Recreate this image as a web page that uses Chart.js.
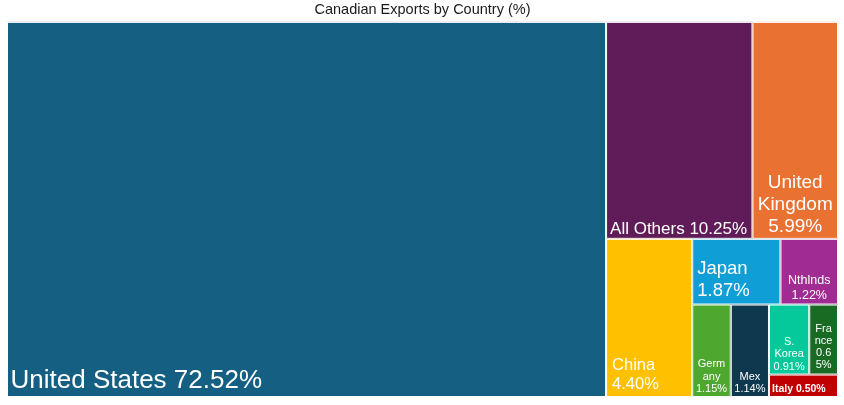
<!DOCTYPE html>
<html>
<head>
<meta charset="utf-8">
<style>
  html, body { margin: 0; padding: 0; background: #ffffff; }
  #wrap { width: 844px; height: 405px; }
</style>
<script src="https://cdn.jsdelivr.net/npm/chart.js@4.4.1/dist/chart.umd.min.js"></script>
</head>
<body>
<div id="wrap"><canvas id="c" width="844" height="405"></canvas></div>
<script>
// ---- data ----
const categories = ["United States", "All Others", "United Kingdom", "China", "Japan", "Nthlnds", "Germany", "Mex", "S. Korea", "France", "Italy"];
const exportShare = [72.52, 10.25, 5.99, 4.40, 1.87, 1.22, 1.15, 1.14, 0.91, 0.65, 0.50];
const chartTitle = "Canadian Exports by Country (%)";

// ---- styles ----
const cellColors = ["#156082", "#601C58", "#E97132", "#FFC000", "#0F9ED5", "#A02B93", "#4EA72E", "#0E384E", "#05C99A", "#196B24", "#C00000"];
const labelStyle = [
  { size: 26,   align: "left",   padX: 3.5, padB: 9,   lh: 30,   maxW: 520 },
  { size: 17,   align: "left",   padX: 4,   padB: 5,   lh: 20,   maxW: 142 },
  { size: 19,   align: "center",            padB: 7,   lh: 21.7, maxW: 80 },
  { size: 16.5, align: "left",   padX: 6,   padB: 8,   lh: 18.6, maxW: 75 },
  { size: 18.5, align: "left",   padX: 5,   padB: 9,   lh: 22,   maxW: 80 },
  { size: 12.5, align: "center",            padB: 6,   lh: 15,   maxW: 50 },
  { size: 11,   align: "center",            padB: 5.3, lh: 12.2, maxW: 32 },
  { size: 11,   align: "center",            padB: 5.3, lh: 12,   maxW: 32 },
  { size: 11,   align: "center",            padB: 5,   lh: 12.2, maxW: 32 },
  { size: 11,   align: "center",            padB: 6.3, lh: 12,   maxW: 19 },
  { size: 10.5, align: "left",   padX: 3,   padB: 5.3, lh: 12,   maxW: 62, weight: "bold" }
];
const FONT = "'Liberation Sans', Arial, Helvetica, sans-serif";
const SHAPE_BIAS = 1.27; // preferred width/height of a tile ~ 1/1.27

// ---- squarified layout (in chart-area units) ----
function tileScore(w, h) { const q = (w / h) * SHAPE_BIAS; return Math.max(q, 1 / q); }
function rowWorst(areas, rect) {
  const s = areas.reduce((a, b) => a + b, 0);
  let worst = 0;
  if (rect.w >= rect.h) {
    const cw = s / rect.h;
    areas.forEach(a => { worst = Math.max(worst, tileScore(cw, a / cw)); });
  } else {
    const rh = s / rect.w;
    areas.forEach(a => { worst = Math.max(worst, tileScore(a / rh, rh)); });
  }
  return worst;
}
function squarify(values, W, H) {
  const total = values.reduce((a, b) => a + b, 0);
  const areas = values.map(v => v / total * W * H);
  const out = [];
  let rect = { x: 0, y: 0, w: W, h: H };
  let i = 0;
  while (i < areas.length) {
    let row = [i];
    let best = rowWorst([areas[i]], rect);
    let j = i + 1;
    while (j < areas.length) {
      const cand = row.concat(j);
      const sc = rowWorst(cand.map(k => areas[k]), rect);
      if (sc <= best) { row = cand; best = sc; j++; } else break;
    }
    const s = row.reduce((a, k) => a + areas[k], 0);
    if (rect.w >= rect.h) {
      const cw = s / rect.h;
      let y = rect.y;
      row.forEach(k => { const h = areas[k] / cw; out[k] = { x: rect.x, y: y, w: cw, h: h }; y += h; });
      rect = { x: rect.x + cw, y: rect.y, w: rect.w - cw, h: rect.h };
    } else {
      const rh = s / rect.w;
      let x = rect.x;
      row.forEach(k => { const w = areas[k] / rh; out[k] = { x: x, y: rect.y, w: w, h: rh }; x += w; });
      rect = { x: rect.x, y: rect.y + rh, w: rect.w, h: rect.h - rh };
    }
    i = j;
  }
  return out;
}

function wrapText(ctx, text, maxW) {
  const words = text.split(" ");
  const lines = [];
  let cur = "";
  for (const w of words) {
    const test = cur ? cur + " " + w : w;
    if (ctx.measureText(test).width <= maxW) { cur = test; continue; }
    if (cur) { lines.push(cur); cur = ""; }
    if (ctx.measureText(w).width <= maxW) { cur = w; continue; }
    let piece = "";
    for (const ch of w) {
      if (!piece || ctx.measureText(piece + ch).width <= maxW) piece += ch;
      else { lines.push(piece); piece = ch; }
    }
    cur = piece;
  }
  if (cur) lines.push(cur);
  return lines;
}

const treemapPlugin = {
  id: "treemapTiles",
  afterDatasetsDraw(chart) {
    const ctx = chart.ctx;
    const xs = chart.scales.x, ys = chart.scales.y;
    const W = xs.right - xs.left, H = ys.bottom - ys.top;
    const tiles = squarify(exportShare, W, H);
    ctx.save();
    tiles.forEach((t, k) => {
      const x0 = xs.getPixelForValue(t.x / W), x1 = xs.getPixelForValue((t.x + t.w) / W);
      const y0 = ys.getPixelForValue(t.y / H), y1 = ys.getPixelForValue((t.y + t.h) / H);
      ctx.fillStyle = cellColors[k];
      ctx.fillRect(x0, y0, x1 - x0, y1 - y0);
      ctx.strokeStyle = "#ffffff";
      ctx.lineWidth = 1;
      ctx.strokeRect(x0 + 0.5, y0 + 0.5, x1 - x0 - 1, y1 - y0 - 1);
      t.px = { x0, x1, y0, y1 };
    });
    tiles.forEach((t, k) => {
      const st = labelStyle[k];
      const { x0, x1, y1 } = t.px;
      ctx.font = (st.weight || "normal") + " " + st.size + "px " + FONT;
      ctx.fillStyle = "#ffffff";
      ctx.textBaseline = "alphabetic";
      const text = categories[k] + " " + exportShare[k].toFixed(2) + "%";
      const lines = wrapText(ctx, text, st.maxW);
      let tx;
      if (st.align === "center") { ctx.textAlign = "center"; tx = (x0 + x1) / 2; }
      else { ctx.textAlign = "left"; tx = x0 + st.padX; }
      const lastY = y1 - st.padB;
      lines.forEach((ln, li) => {
        ctx.fillText(ln, tx, lastY - (lines.length - 1 - li) * st.lh);
      });
    });
    ctx.restore();
  }
};

new Chart(document.getElementById("c").getContext("2d"), {
  type: "scatter",
  data: { datasets: [{ label: "Exports share", data: [], pointRadius: 0 }] },
  options: {
    responsive: false,
    animation: false,
    layout: { padding: { left: 7, right: 6, top: 0, bottom: 8 } },
    scales: {
      x: { type: "linear", min: 0, max: 1, display: false },
      y: { type: "linear", min: 0, max: 1, reverse: true, display: false }
    },
    plugins: {
      legend: { display: false },
      tooltip: { enabled: false },
      title: {
        display: true,
        text: chartTitle,
        color: "#1a1a1a",
        font: { family: FONT, size: 14.5, weight: "normal" },
        padding: { top: 1.5, bottom: 3 }
      }
    }
  },
  plugins: [treemapPlugin]
});
</script>
</body>
</html>
